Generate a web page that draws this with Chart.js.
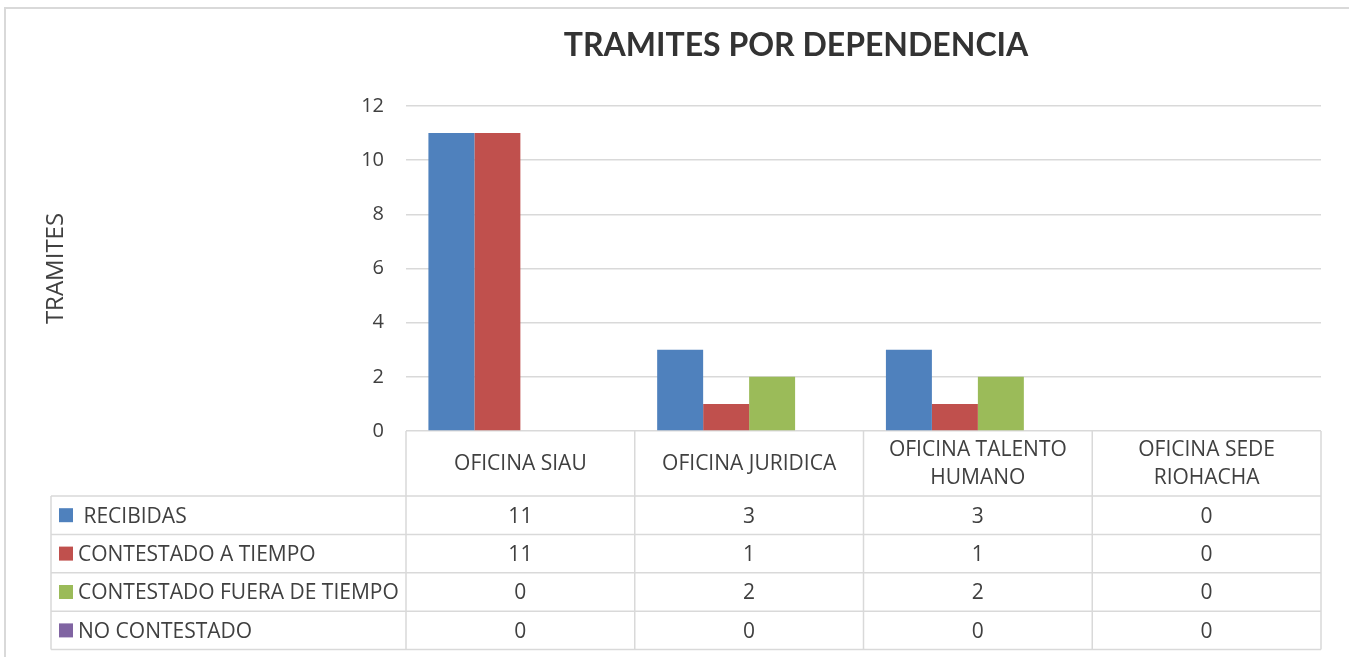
<!DOCTYPE html>
<html>
<head>
<meta charset="utf-8">
<script src="https://cdn.jsdelivr.net/npm/chart.js@4"></script>
<style>
  body { margin: 0; background: #fff; }
  #wrap { width: 1349px; height: 657px; }
</style>
</head>
<body>
<div id="wrap"><canvas id="chart"></canvas></div>
<script>
// Data
const categories = ["OFICINA SIAU", "OFICINA JURIDICA", ["OFICINA TALENTO", "HUMANO"], ["OFICINA SEDE", "RIOHACHA"]];
const seriesNames = [" RECIBIDAS", "CONTESTADO A TIEMPO", "CONTESTADO FUERA DE TIEMPO", "NO CONTESTADO"];
const recibidas = [11, 3, 3, 0];
const aTiempo = [11, 1, 1, 0];
const fueraTiempo = [0, 2, 2, 0];
const noContestado = [0, 0, 0, 0];
const seriesColors = ["#4F81BD", "#C0504D", "#9BBB59", "#8064A2"];
const chartTitle = "TRAMITES POR DEPENDENCIA";
const yTitle = "TRAMITES";

const FONT = "'Open Sans', sans-serif";
const TITLE_FONT = "Lato, sans-serif";
const TEXT = "#404040";
const LINE = "#d9d9d9";

const allSeries = [recibidas, aTiempo, fueraTiempo, noContestado];

// Draws the frame, the title and the data table under the plot
const tablePlugin = {
  id: "dataTable",
  afterDraw(chart) {
    const ctx = chart.ctx;
    const area = chart.chartArea;
    const xs = chart.scales.x;
    const n = categories.length;
    const colW = (area.right - area.left) / n;
    const headTop = area.bottom;
    const headH = 65;
    const rowH = 38.4;
    const labelLeft = 51;
    const tableBottom = headTop + headH + rowH * allSeries.length;

    ctx.save();
    // outer frame
    ctx.strokeStyle = LINE;
    ctx.lineWidth = 2;
    ctx.beginPath();
    ctx.moveTo(5, 657);
    ctx.lineTo(5, 8);
    ctx.lineTo(1349, 8);
    ctx.stroke();

    // title
    ctx.fillStyle = "#333";
    ctx.font = "bold 32px " + TITLE_FONT;
    ctx.textAlign = "center";
    ctx.textBaseline = "middle";
    ctx.fillText(chartTitle, 796, 46);

    // table lines
    ctx.lineWidth = 1.5;
    ctx.beginPath();
    for (let i = 0; i <= n; i++) {
      const x = area.left + i * colW;
      ctx.moveTo(x, headTop);
      ctx.lineTo(x, tableBottom);
    }
    ctx.moveTo(labelLeft, headTop + headH);
    ctx.lineTo(labelLeft, tableBottom);
    for (let r = 0; r <= allSeries.length; r++) {
      const y = headTop + headH + r * rowH;
      ctx.moveTo(labelLeft, y);
      ctx.lineTo(area.right, y);
    }
    ctx.stroke();

    // header labels
    ctx.fillStyle = TEXT;
    ctx.font = "21px " + FONT;
    ctx.textAlign = "center";
    categories.forEach((c, i) => {
      const cx = xs.getPixelForValue(i);
      const lines = Array.isArray(c) ? c : [c];
      const lh = 28;
      const y0 = headTop + 1 + headH / 2 - (lines.length - 1) * lh / 2;
      lines.forEach((l, k) => ctx.fillText(l, cx, y0 + k * lh));
    });

    // rows
    allSeries.forEach((vals, r) => {
      const cy = headTop + headH + r * rowH + rowH / 2;
      ctx.fillStyle = seriesColors[r];
      ctx.fillRect(59, cy - 7, 14, 14);
      ctx.fillStyle = TEXT;
      ctx.textAlign = "left";
      ctx.fillText(seriesNames[r], 78, cy + 1.5);
      ctx.textAlign = "center";
      vals.forEach((v, i) => ctx.fillText(String(v), xs.getPixelForValue(i), cy + 1.5));
    });
    ctx.restore();
  }
};

new Chart(document.getElementById("chart"), {
  type: "bar",
  data: {
    labels: categories,
    datasets: allSeries.map((vals, i) => ({
      label: seriesNames[i],
      data: vals,
      backgroundColor: seriesColors[i],
      borderWidth: 0,
      barPercentage: 1,
      categoryPercentage: 0.804
    }))
  },
  options: {
    responsive: true,
    maintainAspectRatio: false,
    animation: false,
    layout: { padding: { left: 42, top: 106, right: 28, bottom: 226 } },
    plugins: {
      legend: { display: false },
      title: { display: false },
      tooltip: { enabled: false }
    },
    scales: {
      x: { display: false },
      y: {
        min: 0,
        max: 12,
        ticks: { stepSize: 2, padding: 22, color: TEXT, font: { family: FONT, size: 20 } },
        grid: { color: LINE, lineWidth: 1.5, drawTicks: false },
        border: { display: false },
        title: { display: true, text: yTitle, color: TEXT, padding: 0, font: { family: FONT, size: 24 } },
        afterFit(scale) { scale.width = 364; }
      }
    }
  },
  plugins: [tablePlugin]
});
</script>
</body>
</html>
